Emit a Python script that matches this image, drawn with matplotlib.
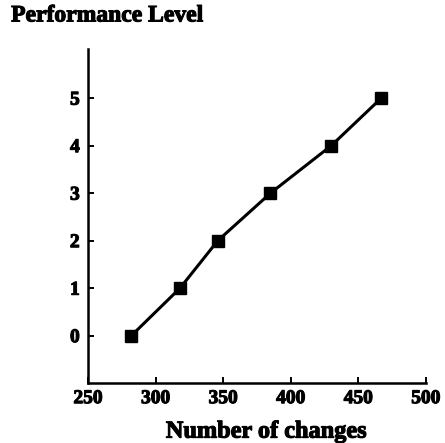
import matplotlib.pyplot as plt
import matplotlib.patheffects as pe

changes = [282, 318, 346, 385, 430, 467]
levels = [0, 1, 2, 3, 4, 5]
x_ticks = [250, 300, 350, 400, 450, 500]
y_ticks = [0, 1, 2, 3, 4, 5]

plt.rcParams['font.family'] = ['Liberation Serif', 'DejaVu Serif']
plt.rcParams['font.weight'] = 'bold'

# slight outline so the bold serif reads heavier
heavy = [pe.withStroke(linewidth=0.8, foreground='black')]

fig = plt.figure(figsize=(4.45, 4.43), dpi=100)
ax = fig.add_axes([0.198, 0.135, 0.759, 0.754])

ax.plot(changes, levels, color='black', linewidth=2.2,
        marker='s', markersize=9, markerfacecolor='black', markeredgecolor='black')

ax.set_xlim(250, 500)
ax.set_ylim(-1, 6.03)
ax.set_xticks(x_ticks)
ax.set_yticks(y_ticks)
ax.spines['top'].set_visible(False)
ax.spines['right'].set_visible(False)
ax.spines['left'].set_linewidth(1.8)
ax.spines['bottom'].set_linewidth(1.8)
ax.tick_params(axis='both', direction='in', length=4, width=1.4, labelsize=14)
ax.tick_params(axis='y', pad=6)
ax.tick_params(axis='x', pad=5)
for lab in ax.get_xticklabels() + ax.get_yticklabels():
    lab.set_fontweight('bold')
    lab.set_path_effects(heavy)

ax.set_xlabel('Number of changes', fontsize=17.5, fontweight='bold',
              path_effects=heavy)
ax.xaxis.set_label_coords(0.527, -0.115)
fig.text(0.025, 0.964, 'Performance Level', fontsize=17, fontweight='bold',
         ha='left', va='center', path_effects=heavy)

fig.savefig('out.png', dpi=100)
